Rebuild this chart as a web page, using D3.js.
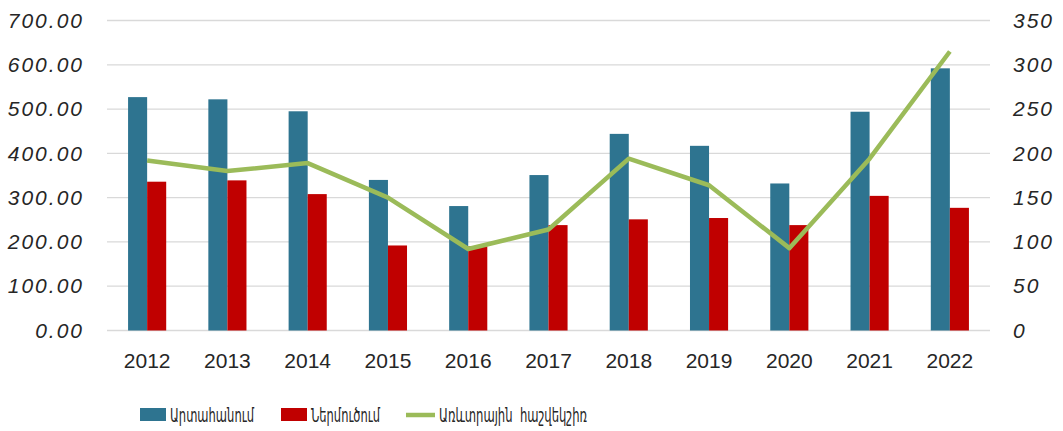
<!DOCTYPE html>
<html>
<head>
<meta charset="utf-8">
<script src="https://cdn.jsdelivr.net/npm/d3@7"></script>
<style>
  body { margin: 0; background: #fff; }
</style>
</head>
<body>
<div id="chart"></div>
<script>
// data
var years = ["2012", "2013", "2014", "2015", "2016", "2017", "2018", "2019", "2020", "2021", "2022"];
var exports_ = [527, 522, 495, 340, 281, 351, 444, 417, 332, 494, 592];
var imports_ = [336, 339, 308, 192, 190, 238, 251, 254, 238, 304, 277];
var balance = [192, 180, 189, 150, 92, 114, 194, 164, 93, 194, 315];
var leftTicks = [0, 100, 200, 300, 400, 500, 600, 700];
var rightTicks = [0, 50, 100, 150, 200, 250, 300, 350];
var seriesNames = ["Արտահանում", "Ներմուծում", "Առևտրային  հաշվեկշիռ"];

var width = 1063, height = 431;
var plotL = 107, plotR = 990, plotT = 20.5, plotB = 330.5;
var colors = { exp: "#2E7490", imp: "#C00000", bal: "#9BBB59" };

var svg = d3.select("#chart").append("svg")
    .attr("width", width)
    .attr("height", height);

var x = d3.scaleBand().domain(years).range([plotL, plotR]).paddingInner(0.525).paddingOuter(0.2625);
var yL = d3.scaleLinear().domain([0, 700]).range([plotB, plotT]);
var yR = d3.scaleLinear().domain([0, 350]).range([plotB, plotT]);
var bw = x.bandwidth() / 2;

// gridlines
svg.append("g").selectAll("line")
    .data(leftTicks)
    .enter().append("line")
    .attr("x1", plotL).attr("x2", plotR)
    .attr("y1", function(d) { return yL(d); })
    .attr("y2", function(d) { return yL(d); })
    .attr("stroke", "#D9D9D9")
    .attr("stroke-width", 1.3);

function styleTicks(g, italic) {
    g.select(".domain").remove();
    g.selectAll("text")
        .style("font-family", "Liberation Sans")
        .style("font-style", italic ? "italic" : "normal")
        .style("font-size", "21px")
        .style("letter-spacing", italic ? "2px" : "0px")
        .attr("fill", "#262626");
}

// left axis
svg.append("g")
    .attr("transform", "translate(84,0)")
    .call(d3.axisLeft(yL).tickValues(leftTicks).tickFormat(d3.format(".2f")).tickSize(0).tickPadding(0))
    .call(styleTicks, true);

// right axis
svg.append("g")
    .attr("transform", "translate(1013,0)")
    .call(d3.axisRight(yR).tickValues(rightTicks).tickSize(0).tickPadding(0))
    .call(styleTicks, true);

// x axis labels
svg.append("g")
    .attr("transform", "translate(0," + plotB + ")")
    .call(d3.axisBottom(x).tickSize(0).tickPadding(23))
    .call(styleTicks, false);

// bars
svg.append("g").selectAll("rect")
    .data(exports_)
    .enter().append("rect")
    .attr("x", function(d, i) { return x(years[i]); })
    .attr("y", function(d) { return yL(d); })
    .attr("width", bw)
    .attr("height", function(d) { return plotB - yL(d); })
    .attr("fill", colors.exp);

svg.append("g").selectAll("rect")
    .data(imports_)
    .enter().append("rect")
    .attr("x", function(d, i) { return x(years[i]) + bw; })
    .attr("y", function(d) { return yL(d); })
    .attr("width", bw)
    .attr("height", function(d) { return plotB - yL(d); })
    .attr("fill", colors.imp);

// balance line
var line = d3.line()
    .x(function(d, i) { return x(years[i]) + x.bandwidth() / 2; })
    .y(function(d) { return yR(d); });
svg.append("path")
    .datum(balance)
    .attr("d", line)
    .attr("fill", "none")
    .attr("stroke", colors.bal)
    .attr("stroke-width", 4.5)
    .attr("stroke-linejoin", "round");

// legend
var legY = 415;
var legend = svg.append("g");
var items = [
    { name: seriesNames[0], color: colors.exp, type: "rect", x: 140, w: 84 },
    { name: seriesNames[1], color: colors.imp, type: "rect", x: 281, w: 69 },
    { name: seriesNames[2], color: colors.bal, type: "line", x: 406, w: 148 }
];
items.forEach(function(it) {
    if (it.type === "rect") {
        legend.append("rect")
            .attr("x", it.x).attr("y", legY - 7)
            .attr("width", 26).attr("height", 13)
            .attr("fill", it.color);
    } else {
        legend.append("line")
            .attr("x1", it.x).attr("x2", it.x + 29)
            .attr("y1", legY).attr("y2", legY)
            .attr("stroke", it.color).attr("stroke-width", 4.5);
    }
    legend.append("text")
        .attr("x", it.x + (it.type === "rect" ? 30 : 33))
        .attr("y", legY + 7)
        .attr("textLength", it.w)
        .attr("lengthAdjust", "spacingAndGlyphs")
        .style("font-family", "DejaVu Sans Condensed")
        .style("font-size", "20px")
        .style("white-space", "pre")
        .attr("fill", "#262626")
        .text(it.name);
});
</script>
</body>
</html>
